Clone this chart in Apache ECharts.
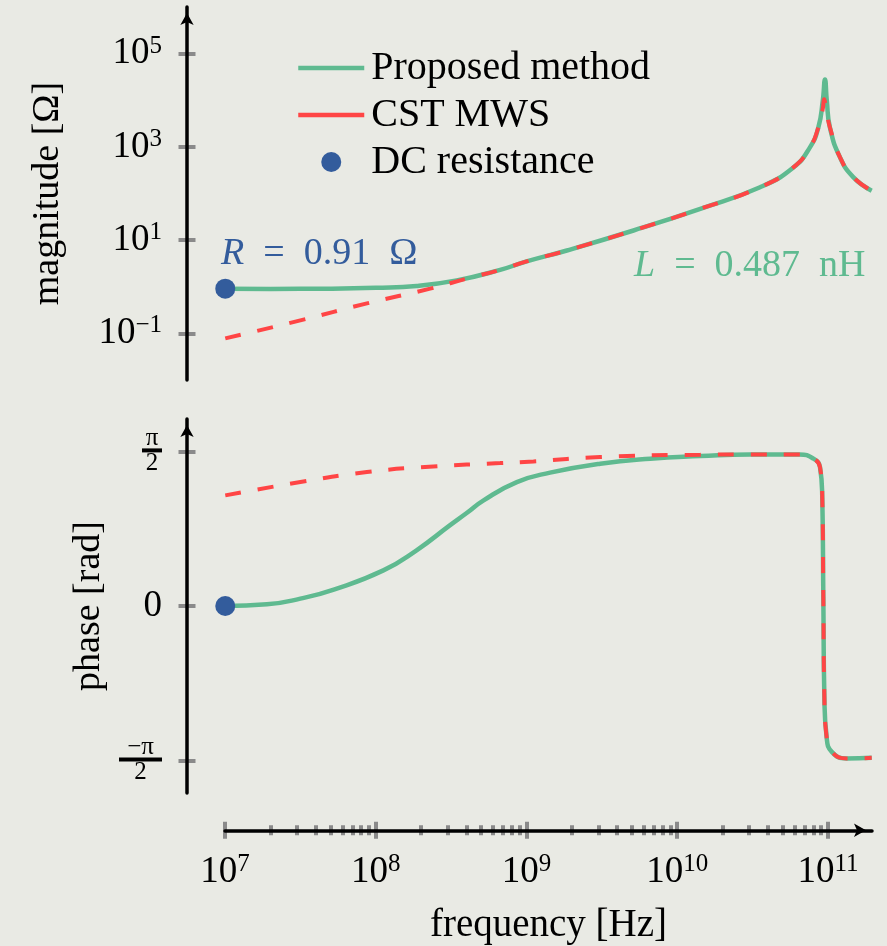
<!DOCTYPE html>
<html><head><meta charset="utf-8">
<script src="https://cdn.jsdelivr.net/npm/echarts@6/dist/echarts.min.js"></script>
<style>html,body{margin:0;padding:0;background:#e9eae4}#c{width:887px;height:946px}</style>
</head><body><div id="c"></div><script>
// ---- data (frequency in Hz) ----
const freqMagProposed = [1e7, 2e7, 5e7, 1e8, 1.86e8, 3.44e8, 6.67e8, 1e9, 1.85e9, 5.12e9, 1.42e10, 3.54e10, 5.89e10, 7.59e10, 8.63e10, 9.23e10, 9.55e10, 9.82e10, 1.03e11, 1.2e11, 1.47e11, 1.95e11];
const magProposed     = [0.91, 0.90, 0.91, 0.95, 1.04, 1.37, 2.3, 3.5, 6.0, 16.1, 47, 136, 363, 977, 2610, 9730, 28000, 9730, 2610, 603, 224, 115];
const freqMagCST = [1e7, 3.15e7, 8.71e7, 2.29e8, 3.98e8, 6.67e8, 1e9, 1.85e9, 5.12e9, 1.42e10, 3.54e10, 5.89e10, 7.59e10, 8.63e10, 9.23e10, 9.42e10, 9.75e10, 1.03e11, 1.2e11, 1.47e11, 1.95e11];
const magCST     = [0.078, 0.19, 0.44, 0.91, 1.49, 2.3, 3.5, 6.0, 16.1, 47, 136, 363, 977, 2610, 6500, 10500, 6000, 2610, 603, 224, 115];
const freqPhaseProposed = [1e7, 1.89e7, 3.15e7, 5.25e7, 1.12e8, 1.86e8, 3.09e8, 3.98e8, 5.18e8, 8.61e8, 1.43e9, 3.08e9, 6.61e9, 1.42e10, 3.02e10, 6.46e10, 8.0e10, 8.85e10, 9.16e10, 9.31e10, 9.46e10, 9.79e10, 1.06e11, 1.33e11, 1.95e11];
const phaseProposed     = [0, 0.017, 0.075, 0.167, 0.362, 0.566, 0.819, 0.942, 1.073, 1.259, 1.355, 1.446, 1.497, 1.523, 1.540, 1.540, 1.497, 1.411, 1.107, 0.091, -0.924, -1.330, -1.482, -1.549, -1.543];
const freqPhaseCST = [1e7, 3.15e7, 8.71e7, 2.4e8, 6.67e8, 1.11e9, 3.08e9, 1.42e10, 3.02e10, 6.46e10, 8.0e10, 8.85e10, 9.16e10, 9.31e10, 9.46e10, 9.79e10, 1.06e11, 1.33e11, 1.95e11];
const phaseCST     = [1.124, 1.259, 1.361, 1.418, 1.452, 1.469, 1.513, 1.537, 1.540, 1.540, 1.497, 1.411, 1.107, 0.091, -0.924, -1.330, -1.482, -1.549, -1.543];
const dcFreq = 1e7, dcResistance = 0.91, dcPhase = 0;
const magTicks = [0.1, 10, 1000, 100000];
const phaseTicks = [-Math.PI / 2, 0, Math.PI / 2];
const freqMajorTicks = [1e7, 1e8, 1e9, 1e10, 1e11];
const freqMinorTicks = [];
[7, 8, 9, 10].forEach(e => { for (let k = 2; k <= 9; k++) freqMinorTicks.push(k * Math.pow(10, e)); });

const FONT = 'Liberation Serif';
const GREEN = '#5fba90', RED = '#ff4545', BLUE = '#335c9c', TICK = '#8a8a8a';
const xMax = Math.pow(10, 11.292), xMinPanel = Math.pow(10, 6.746);
const pairs = (xs, ys) => xs.map((x, i) => [x, ys[i]]);

const supRich = {
  b: { fontFamily: FONT, fontSize: 37, color: '#000', lineHeight: 40, verticalAlign: 'middle' },
  s: { fontFamily: FONT, fontSize: 25, color: '#000', lineHeight: 40, verticalAlign: 'top' }
};
const powFmt = v => '{b|10}{s|' + String(Math.round(Math.log10(v))).replace('-', '−') + '}';

function tickAxis(base, values, len, inside) {
  return Object.assign({}, base, {
    axisLine: { show: false, onZero: false },
    axisLabel: { show: false },
    axisTick: { show: true, customValues: values, length: len, inside: inside, lineStyle: { color: TICK, width: 4 } },
    splitLine: { show: false }, name: '', z: 1
  });
}
const arrowLine = { show: true, onZero: false, lineStyle: { color: '#000', width: 3.5 }, symbol: ['none', 'arrow'], symbolSize: [10, 12], symbolOffset: [0, -6] };

const magBase = { type: 'log', gridIndex: 0, min: 0.01, max: 1e6, position: 'left' };
const phBase = { type: 'value', gridIndex: 1, min: -1.9, max: 1.9, position: 'left' };
const fBase = { type: 'log', gridIndex: 2, min: 1e7, max: xMax, position: 'bottom' };

const yAxes = [
  Object.assign({}, magBase, {
    axisLine: arrowLine, axisTick: { show: false }, splitLine: { show: false }, z: 5,
    axisLabel: { customValues: magTicks, margin: 25, formatter: powFmt, rich: supRich },
    name: 'magnitude [Ω]', nameLocation: 'middle', nameGap: 120,
    nameTextStyle: { fontFamily: FONT, fontSize: 38, color: '#000' }
  }),
  tickAxis(magBase, magTicks, 8.5, false),
  tickAxis(magBase, magTicks, 8.5, true),
  Object.assign({}, phBase, {
    axisLine: arrowLine, axisTick: { show: false }, splitLine: { show: false }, z: 5,
    axisLabel: {
      customValues: phaseTicks, margin: 25,
      formatter: v => v > 1 ? '{n|π}\n{bar|}\n{d|2}' : (v < -1 ? '{n2|−π}\n{bar2|}\n{d2|2}' : '{z|0}'),
      rich: {
        n: { fontFamily: FONT, fontSize: 25, color: '#000', width: 20, align: 'center', lineHeight: 20 },
        bar: { width: 20, height: 4, backgroundColor: '#000' },
        d: { fontFamily: FONT, fontSize: 25, color: '#000', width: 20, align: 'center', lineHeight: 22 },
        n2: { fontFamily: FONT, fontSize: 25, color: '#000', width: 43, align: 'center', lineHeight: 20 },
        bar2: { width: 43, height: 4, backgroundColor: '#000' },
        d2: { fontFamily: FONT, fontSize: 25, color: '#000', width: 43, align: 'center', lineHeight: 22 },
        z: { fontFamily: FONT, fontSize: 37, color: '#000' }
      }
    },
    name: 'phase [rad]', nameLocation: 'middle', nameGap: 75,
    nameTextStyle: { fontFamily: FONT, fontSize: 38, color: '#000' }
  }),
  tickAxis(phBase, phaseTicks, 8.5, false),
  tickAxis(phBase, phaseTicks, 8.5, true),
  { type: 'value', gridIndex: 2, show: false, min: 0, max: 1 }
];

const xAxes = [
  { type: 'log', gridIndex: 0, min: xMinPanel, max: xMax, show: false, axisLine: { onZero: false } },
  { type: 'log', gridIndex: 1, min: xMinPanel, max: xMax, show: false, axisLine: { onZero: false } },
  Object.assign({}, fBase, {
    axisLine: arrowLine, axisTick: { show: false }, splitLine: { show: false }, z: 5,
    axisLabel: { customValues: freqMajorTicks, margin: 22, formatter: powFmt, rich: supRich },
    name: 'frequency [Hz]', nameLocation: 'middle', nameGap: 76,
    nameTextStyle: { fontFamily: FONT, fontSize: 39, color: '#000' }
  }),
  tickAxis(fBase, freqMajorTicks, 8.5, false),
  tickAxis(fBase, freqMajorTicks, 8.5, true),
  tickAxis(fBase, freqMinorTicks, 5, false),
  tickAxis(fBase, freqMinorTicks, 5, true)
];

const greenLine = { color: GREEN, width: 4.5 };
const redLine = { color: RED, width: 4, type: [16, 17] };

const option = {
  backgroundColor: '#e9eae4',
  animation: false,
  grid: [
    { left: 187, right: 15, top: 7, height: 373 },
    { left: 187, right: 15, top: 419, height: 374 },
    { left: 225, right: 15, top: 830, height: 1 }
  ],
  xAxis: xAxes,
  yAxis: yAxes,
  legend: {
    orient: 'vertical', left: 291, top: 43, itemWidth: 66, itemHeight: 20, itemGap: 7,
    selectedMode: false,
    textStyle: { fontFamily: FONT, fontSize: 40, color: '#000', padding: [0, 0, 0, 2] },
    data: [
      { name: 'Proposed method', lineStyle: { width: 4.5 }, itemStyle: { opacity: 0 } },
      { name: 'CST MWS', lineStyle: { type: 'solid', width: 4.5 }, itemStyle: { opacity: 0 } },
      { name: 'DC resistance', icon: 'circle' }
    ]
  },
  graphic: [
    { type: 'text', x: 221, y: 254, style: { text: '{i|R}  =  0.91  Ω', verticalAlign: 'middle',
      rich: { i: { fontStyle: 'italic', fontFamily: FONT, fontSize: 38, fill: BLUE } },
      font: '38px "Liberation Serif"', fill: BLUE } },
    { type: 'text', x: 634, y: 266, style: { text: '{i|L}  =  0.487  nH', verticalAlign: 'middle',
      rich: { i: { fontStyle: 'italic', fontFamily: FONT, fontSize: 38, fill: GREEN } },
      font: '38px "Liberation Serif"', fill: GREEN } }
  ],
  series: [
    { name: 'Proposed method', type: 'line', xAxisIndex: 0, yAxisIndex: 0, symbol: 'none', smooth: 0.5,
      lineStyle: greenLine, itemStyle: { color: GREEN }, data: pairs(freqMagProposed, magProposed), z: 2 },
    { name: 'CST MWS', type: 'line', xAxisIndex: 0, yAxisIndex: 0, symbol: 'none', smooth: 0.5,
      lineStyle: redLine, itemStyle: { color: RED }, data: pairs(freqMagCST, magCST), z: 3 },
    { name: 'DC resistance', type: 'scatter', xAxisIndex: 0, yAxisIndex: 0, symbolSize: 20,
      itemStyle: { color: BLUE, opacity: 1 }, data: [[dcFreq, dcResistance]], z: 4 },
    { name: 'Proposed method', type: 'line', xAxisIndex: 1, yAxisIndex: 3, symbol: 'none', smooth: 0.5,
      lineStyle: greenLine, itemStyle: { color: GREEN }, data: pairs(freqPhaseProposed, phaseProposed), z: 2 },
    { name: 'CST MWS', type: 'line', xAxisIndex: 1, yAxisIndex: 3, symbol: 'none', smooth: 0.5,
      lineStyle: redLine, itemStyle: { color: RED }, data: pairs(freqPhaseCST, phaseCST), z: 3 },
    { name: 'DC resistance', type: 'scatter', xAxisIndex: 1, yAxisIndex: 3, symbolSize: 20,
      itemStyle: { color: BLUE, opacity: 1 }, data: [[dcFreq, dcPhase]], z: 4 }
  ]
};
const chart = echarts.init(document.getElementById('c'), null, { renderer: 'canvas' });
chart.setOption(option);
</script></body></html>
